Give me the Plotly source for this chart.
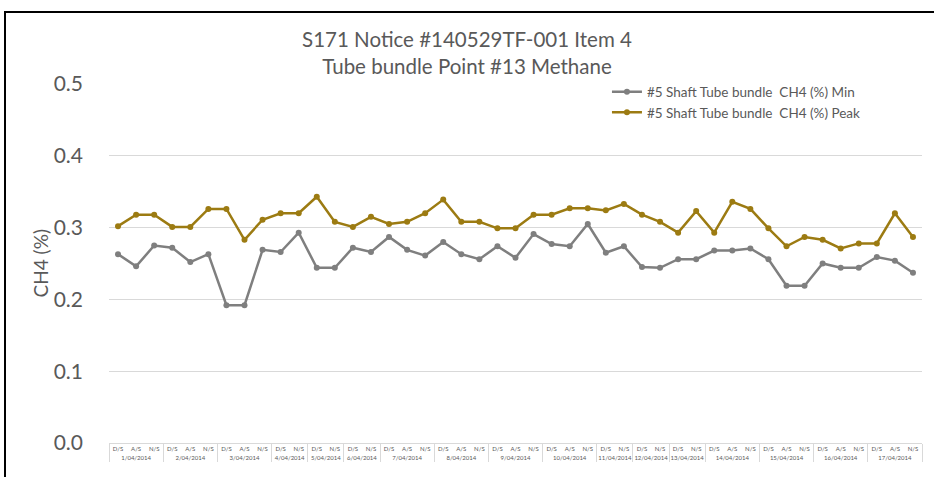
import plotly.graph_objects as go

# ---- data ----
days = ["1/04/2014", "2/04/2014", "3/04/2014", "4/04/2014", "5/04/2014", "6/04/2014",
        "7/04/2014", "8/04/2014", "9/04/2014", "10/04/2014", "11/04/2014", "12/04/2014",
        "13/04/2014", "14/04/2014", "15/04/2014", "16/04/2014", "17/04/2014"]
shifts_per_day = [
    ["D/S", "A/S", "N/S"], ["D/S", "A/S", "N/S"], ["D/S", "A/S", "N/S"],
    ["D/S", "N/S"], ["D/S", "N/S"], ["D/S", "N/S"],
    ["D/S", "A/S", "N/S"], ["D/S", "A/S", "N/S"], ["D/S", "A/S", "N/S"],
    ["D/S", "A/S", "N/S"],
    ["D/S", "N/S"], ["D/S", "N/S"], ["D/S", "N/S"],
    ["D/S", "A/S", "N/S"], ["D/S", "A/S", "N/S"], ["D/S", "A/S", "N/S"],
    ["D/S", "A/S", "N/S"],
]
ch4_min = [0.263, 0.246, 0.275, 0.272, 0.252, 0.263, 0.192, 0.192, 0.269, 0.266,
           0.293, 0.244, 0.244, 0.272, 0.266, 0.287, 0.269, 0.261, 0.280, 0.263,
           0.256, 0.274, 0.258, 0.291, 0.277, 0.274, 0.305, 0.265, 0.274, 0.245,
           0.244, 0.256, 0.256, 0.268, 0.268, 0.271, 0.256, 0.219, 0.219, 0.250,
           0.244, 0.244, 0.259, 0.254, 0.237]
ch4_peak = [0.302, 0.318, 0.318, 0.301, 0.301, 0.326, 0.326, 0.283, 0.311, 0.320,
            0.320, 0.343, 0.308, 0.301, 0.315, 0.305, 0.308, 0.320, 0.339, 0.308,
            0.308, 0.299, 0.299, 0.318, 0.318, 0.327, 0.327, 0.324, 0.333, 0.318,
            0.308, 0.293, 0.323, 0.293, 0.336, 0.326, 0.299, 0.274, 0.287, 0.283,
            0.271, 0.278, 0.278, 0.320, 0.287]
y_ticks = [0.0, 0.1, 0.2, 0.3, 0.4, 0.5]

date_level = [d for d, s in zip(days, shifts_per_day) for _ in s]
shift_level = [sh for s in shifts_per_day for sh in s]
x_multi = [date_level, shift_level]
n_points = len(shift_level)

TXT = "#595959"
GRID = "#d9d9d9"
FONT = "Lato, Open Sans, sans-serif"

fig = go.Figure()
fig.add_trace(go.Scatter(
    x=x_multi, y=ch4_min, mode="lines+markers",
    name="#5 Shaft Tube bundle  CH4 (%) Min",
    line=dict(color="#7f7f7f", width=2.5),
    marker=dict(color="#7f7f7f", size=6),
))
fig.add_trace(go.Scatter(
    x=x_multi, y=ch4_peak, mode="lines+markers",
    name="#5 Shaft Tube bundle  CH4 (%) Peak",
    line=dict(color="#9c7b12", width=2.5),
    marker=dict(color="#9c7b12", size=6),
))

fig.update_layout(
    width=934, height=477,
    margin=dict(l=109, r=12, t=84, b=34),
    paper_bgcolor="white", plot_bgcolor="white",
    font=dict(family=FONT, color=TXT),
    title=dict(
        text="S171 Notice #140529TF-001 Item 4<br>Tube bundle Point #13 Methane",
        x=0.5, xref="container", xanchor="center",
        y=0.9015, yref="container", yanchor="top",
        font=dict(size=20.5, color=TXT, family=FONT),
    ),
    showlegend=True,
    legend=dict(
        x=0.6125, y=1.021, xanchor="left", yanchor="top",
        font=dict(size=13.5, color=TXT, family=FONT),
        bgcolor="rgba(0,0,0,0)", tracegroupgap=0,
        itemwidth=30,
    ),
    xaxis=dict(
        type="multicategory", automargin=False, tickangle=0,
        range=[-0.5, n_points - 0.5], autorange=False,
        tickfont=dict(size=6, color=TXT, family=FONT),
        showline=True, linecolor=GRID, linewidth=1,
        showdividers=True, dividercolor=GRID, dividerwidth=1,
        showgrid=False, ticks="",
    ),
    yaxis=dict(
        range=[0, 0.5], tickvals=y_ticks, tickformat=".1f", automargin=False,
        showgrid=True, gridcolor=GRID, gridwidth=1,
        zeroline=False, showline=False,
        tickfont=dict(size=21, color=TXT, family=FONT),
        ticklabelstandoff=25,
    ),
    annotations=[dict(
        text="CH4 (%)", textangle=-90, showarrow=False,
        xref="paper", yref="paper", x=(40 - 109) / 813, y=0.5,
        xanchor="center", yanchor="middle",
        font=dict(size=19, color=TXT, family=FONT),
    )],
    shapes=[dict(
        type="rect", xref="paper", yref="paper",
        x0=(5 - 109) / 813, x1=(945 - 109) / 813,
        y0=(443 - 490) / 359, y1=(443 - 12) / 359,
        line=dict(color="black", width=2), fillcolor="rgba(0,0,0,0)", layer="above",
    )],
)

fig.write_html(
    "out.html",
    config={"displayModeBar": False},
    post_script="document.body.style.margin='0';document.body.style.overflow='hidden';",
)
